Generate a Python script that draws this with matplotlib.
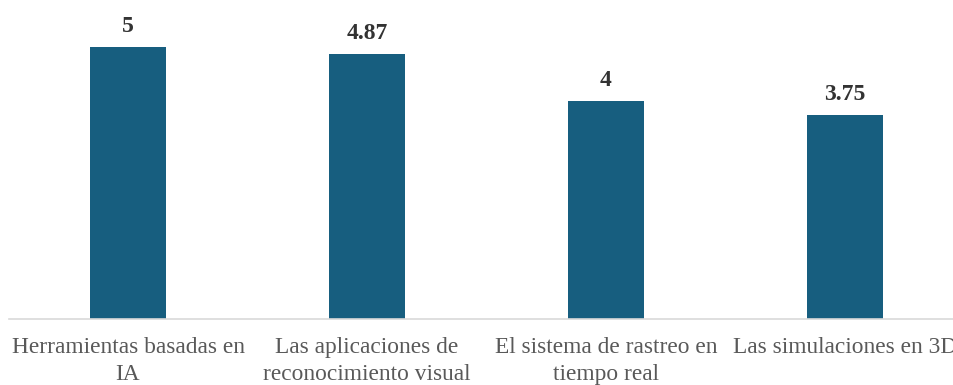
import matplotlib
matplotlib.use('Agg')
import matplotlib.pyplot as plt

# valoración media de cada herramienta
categorias = ['Herramientas basadas en\nIA',
              'Las aplicaciones de\nreconocimiento visual',
              'El sistema de rastreo en\ntiempo real',
              'Las simulaciones en 3D']
valores = [5, 4.87, 4, 3.75]
etiquetas = ['5', '4.87', '4', '3.75']

plt.rcParams['font.family'] = ['Liberation Serif', 'DejaVu Serif']

fig = plt.figure(figsize=(9.54, 3.85), dpi=100)
ax = fig.add_axes([9/954, 66/385, 1 - 9/954, 1 - 66/385])

x = range(len(categorias))
barras = ax.bar(x, valores, width=0.314, color='#175e7f')

for b, txt in zip(barras, etiquetas):
    ax.annotate(txt, (b.get_x() + b.get_width()/2, b.get_height()),
                xytext=(0, 10.8), textcoords='offset points',
                ha='center', va='baseline', fontsize=17, fontweight='bold',
                color='#333333')

ax.set_xlim(-0.498, 3.456)
ax.set_ylim(0, 5.864)
ax.set_xticks(list(x))
ax.set_xticklabels(categorias, fontsize=16.8, color='#595959', linespacing=1.35)
ax.tick_params(axis='x', length=0, pad=13)
ax.set_yticks([])
for s in ['top', 'right', 'left']:
    ax.spines[s].set_visible(False)
ax.spines['bottom'].set_color('#d9d9d9')
ax.spines['bottom'].set_linewidth(1.2)

fig.savefig('out.png', dpi=100)
